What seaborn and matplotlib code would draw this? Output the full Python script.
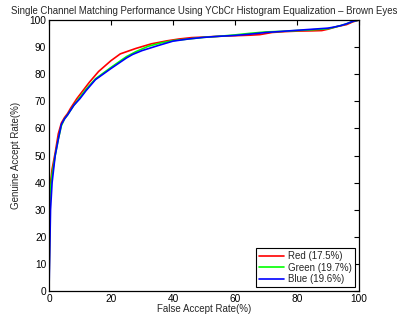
import matplotlib
matplotlib.use("Agg")
import matplotlib.pyplot as plt
import seaborn as sns
import pandas as pd

# ROC-style curves: genuine accept rate vs false accept rate per colour channel
red_far = [0, 0.3, 1, 2, 3, 4, 5, 6, 7, 9, 11, 13, 16, 20, 23, 28, 33, 38, 42, 46, 50, 55, 60, 65, 68, 72, 76, 80, 85, 88, 90, 93, 96, 98, 100]
red_gar = [0, 38, 45, 51, 58, 62, 64, 65.5, 67.5, 71, 74, 77, 81, 85, 87.5, 89.5, 91.2, 92.3, 93, 93.5, 93.7, 94, 94.2, 94.4, 94.6, 95.4, 95.7, 95.9, 96, 96.1, 96.6, 97.6, 98.3, 99.3, 100]

green_far = [0, 0.3, 1, 2, 3, 4, 5, 6, 8, 10, 12, 15, 20, 25, 28, 32, 36, 40, 45, 50, 55, 60, 65, 70, 75, 80, 85, 88, 90, 92, 94, 96, 98, 100]
green_gar = [0, 36, 43, 50, 56, 61, 63.5, 65, 68.5, 71.5, 74.5, 78.3, 82.5, 86.5, 88.3, 90.3, 91.5, 92.4, 93, 93.6, 94, 94.5, 95.1, 95.6, 95.8, 96.1, 96.4, 96.6, 96.8, 97.3, 97.9, 98.6, 99.5, 100]

blue_far = [0, 0.5, 1, 1.5, 2, 3, 4, 5, 6, 8, 10, 12, 15, 20, 25, 27, 30, 35, 40, 45, 50, 55, 60, 65, 70, 75, 80, 85, 90, 92, 94, 96, 98, 100]
blue_gar = [0, 30, 40, 45, 50, 56, 61.5, 63.5, 65, 68.5, 71, 74, 78, 82.1, 86, 87.3, 88.7, 90.5, 92.2, 93, 93.6, 94, 94.3, 94.8, 95.4, 95.8, 96.2, 96.6, 97, 97.4, 97.9, 98.6, 99.5, 100]

labels = ["Red (17.5%)", "Green (19.7%)", "Blue (19.6%)"]
colors = ["#ff0000", "#00ff00", "#0000ff"]

frames = []
for lab, far, gar in zip(labels, [red_far, green_far, blue_far], [red_gar, green_gar, blue_gar]):
    frames.append(pd.DataFrame({"FAR": far, "GAR": gar, "Channel": lab}))
df = pd.concat(frames, ignore_index=True)

sns.set_style("white")
plt.rcParams["font.family"] = ["Liberation Sans", "DejaVu Sans"]
plt.rcParams["font.size"] = 7

fig = plt.figure(figsize=(3.97, 3.2), dpi=100)
ax = fig.add_axes([0.1234, 0.0906, 0.7808, 0.8469])

sns.lineplot(data=df, x="FAR", y="GAR", hue="Channel", palette=colors,
             estimator=None, sort=False, linewidth=1.2, ax=ax)

ax.set_xlim(0, 100)
ax.set_ylim(0, 100)
ax.set_xticks(range(0, 101, 20))
ax.set_yticks(range(0, 101, 10))
ax.tick_params(direction="in", length=3.5, width=0.8, top=True, right=True,
               labelsize=7.3, colors="black", pad=2)
for s in ax.spines.values():
    s.set_visible(True)
    s.set_color("black")
    s.set_linewidth(0.9)

ax.set_xlabel("False Accept Rate(%)", fontsize=7, labelpad=0)
ax.set_ylabel("Genuine Accept Rate(%)", fontsize=7, labelpad=6)
ax.set_title("Single Channel Matching Performance Using YCbCr Histogram Equalization \u2013 Brown Eyes",
             fontsize=6.9, pad=4)

leg = ax.legend(loc="lower right", fontsize=7, frameon=True, fancybox=False,
                edgecolor="black", handlelength=2.6, borderpad=0.3,
                labelspacing=0.15, handletextpad=0.4, borderaxespad=0.4)
leg.get_frame().set_linewidth(0.8)
leg.get_frame().set_alpha(1)

fig.savefig("out.png", dpi=100)
